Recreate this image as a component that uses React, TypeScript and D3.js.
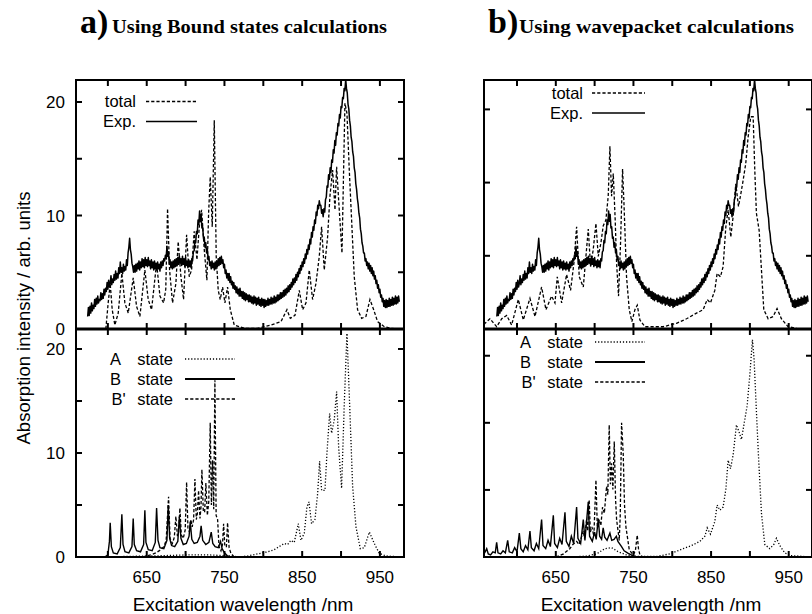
import React from 'react';
import * as d3 from 'd3';

type Pt = [number, number];

// ---------- tick values / labels ----------
const xTickValues = [600, 650, 700, 750, 800, 850, 900, 950];
const xTickLabels = [650, 750, 850, 950];
const yTicksBound = [5, 10, 15, 20];
const yTickLabelsBound = [0, 10, 20];
const yTicksWave = [6.45, 12.9, 19.35];

// ---------- texts ----------
const panelLetters = ['a)', 'b)'];
const panelTitles = ['Using Bound states calculations', 'Using wavepacket calculations'];
const topLegendLabels = ['total', 'Exp.'];
const bottomLegendLetters = ['A', 'B', "B'"];
const xAxisTitle = 'Excitation wavelength /nm';
const yAxisTitle = 'Absorption intensity / arb. units';

// ---------- experimental spectrum (same in both panels), 1 nm steps from 574 nm ----------
const expStartNm = 574;
const expStepNm = 1;
const expValues: number[] = [
  1.1, 1.9, 1.2, 2.0, 1.4, 2.3, 1.6, 2.1, 1.8, 2.6,
  2.0, 2.7, 2.2, 2.9, 2.3, 2.6, 2.5, 3.2, 2.6, 3.1,
  2.7, 3.5, 3.0, 3.6, 3.3, 4.1, 3.5, 4.3, 3.7, 4.0,
  4.7, 3.9, 4.4, 4.1, 4.8, 4.3, 5.1, 4.4, 4.9, 4.5,
  5.4, 4.9, 5.9, 5.0, 5.4, 4.9, 5.7, 5.1, 5.5, 5.2,
  6.1, 5.6, 6.7, 7.2, 8.0, 7.0, 6.6, 5.8, 5.5, 5.0,
  5.6, 5.0, 5.7, 5.1, 5.8, 5.3, 6.0, 5.2, 5.9, 5.4,
  6.2, 5.5, 6.1, 5.4, 6.3, 5.6, 6.1, 5.5, 6.3, 5.6,
  6.0, 5.3, 6.1, 5.4, 5.9, 5.2, 6.0, 5.3, 5.8, 5.2,
  5.9, 5.3, 5.7, 5.1, 5.9, 5.4, 6.0, 5.6, 6.2, 6.0,
  6.5, 6.2, 7.3, 6.4, 6.8, 5.7, 6.1, 5.4, 5.9, 5.3,
  6.0, 5.4, 6.1, 5.5, 6.2, 5.6, 6.3, 5.7, 6.4, 5.8,
  6.2, 5.6, 6.4, 5.7, 6.2, 5.5, 6.3, 5.6, 6.0, 5.4,
  6.1, 5.5, 6.0, 5.4, 6.2, 6.0, 6.8, 6.9, 7.8, 7.6,
  8.6, 8.4, 9.6, 9.2, 10.4, 9.5, 10.1, 8.9, 9.0, 8.0,
  8.1, 7.2, 7.6, 6.7, 7.0, 6.1, 6.4, 5.6, 5.9, 5.3,
  6.0, 5.4, 5.8, 5.2, 5.9, 5.3, 6.0, 5.5, 6.2, 5.6,
  6.3, 5.7, 6.4, 5.8, 6.1, 5.4, 5.7, 4.9, 5.2, 4.5,
  4.9, 4.3, 4.9, 4.1, 4.6, 3.9, 4.2, 3.6, 4.1, 3.5,
  3.8, 3.2, 3.7, 3.1, 3.5, 2.9, 3.6, 2.9, 3.3, 2.7,
  3.3, 2.6, 3.2, 2.5, 3.1, 2.6, 3.0, 2.4, 3.0, 2.4,
  2.9, 2.3, 2.8, 2.2, 2.9, 2.3, 2.8, 2.1, 2.7, 2.2,
  2.8, 2.1, 2.6, 2.0, 2.7, 2.1, 2.6, 1.9, 2.6, 2.0,
  2.5, 2.1, 2.7, 2.1, 2.6, 2.2, 2.8, 2.2, 2.7, 2.3,
  2.9, 2.3, 2.8, 2.4, 3.0, 2.5, 3.0, 2.6, 3.2, 2.7,
  3.2, 2.8, 3.4, 2.9, 3.5, 3.0, 3.6, 3.2, 3.8, 3.3,
  3.9, 3.5, 4.1, 3.7, 4.4, 3.9, 4.5, 4.1, 4.8, 4.3,
  5.0, 4.6, 5.3, 4.9, 5.6, 5.2, 5.9, 5.5, 6.2, 5.8,
  6.6, 6.2, 7.0, 6.6, 7.4, 7.0, 7.9, 7.5, 8.5, 8.1,
  9.0, 8.7, 9.6, 9.3, 10.3, 10.0, 10.9, 10.6, 11.3, 10.9,
  10.9, 10.2, 10.5, 9.9, 10.6, 10.3, 11.4, 11.6, 12.6, 12.5,
  13.6, 13.2, 14.2, 13.8, 14.9, 14.7, 15.8, 15.5, 16.6, 16.2,
  17.3, 17.1, 18.1, 17.9, 18.9, 18.6, 19.6, 19.5, 20.4, 20.3,
  21.2, 21.0, 22.0, 21.2, 20.8, 19.8, 19.4, 18.4, 17.9, 16.9,
  16.5, 15.6, 15.2, 14.2, 13.8, 12.8, 12.3, 11.5, 11.0, 10.2,
  9.8, 8.8, 8.4, 7.6, 7.3, 6.7, 6.7, 6.0, 6.2, 5.6,
  5.9, 5.3, 5.8, 5.1, 5.6, 4.9, 5.4, 4.7, 5.1, 4.4,
  4.7, 4.0, 4.3, 3.6, 3.9, 3.2, 3.5, 2.8, 3.0, 2.4,
  2.7, 2.0, 2.5, 1.9, 2.6, 1.9, 2.5, 2.0, 2.7, 2.0,
  2.6, 2.1, 2.8, 2.1, 2.7, 2.2, 2.9, 2.2, 2.8, 2.3,
  2.9, 2.4,
];

// ---------- a) bound state calculations ----------
const totalBound: Pt[] = [
  [597.4, 0], [600.4, 2.3], [603, 4.0], [605.6, 1.7], [609, 0.35], [613.3, 1.4], [618, 4.9], [621.9, 2.3], [626.2, 1.4],
  [632.6, 4.5], [636.9, 2.0], [641.2, 1.1], [647.6, 5.2], [651.9, 2.6], [656.2, 1.7], [662.7, 5.8], [667, 2.9], [671.7, 2.3],
  [674.5, 3.5], [676.8, 10.6], [679.4, 5.2], [683.2, 2.3], [687.5, 4.0], [690.5, 7.7], [694, 4.6], [697.4, 2.6], [701.3, 8.3],
  [704.7, 4.6], [707.7, 5.2], [711.1, 8.6], [714.6, 6.1], [717.6, 9.0], [720.6, 10.5], [724, 7.0], [727.4, 4.3], [729.6, 10.2],
  [731.7, 13.4], [734.3, 9.0], [736.9, 18.4], [739.4, 6.4], [742, 3.4], [744.6, 2.6], [747.6, 3.7], [750.6, 2.3], [754, 3.7],
  [757.5, 1.7], [762.6, 0.35], [775.5, 0.06], [792.6, 0.06], [809.8, 0.35], [822.7, 0.65], [830.4, 1.7], [834.7, 0.94],
  [840.7, 1.2], [846.3, 3.4], [850.6, 1.7], [854.9, 2.3], [859.1, 5.2], [863.4, 2.6], [867.7, 4.0], [872, 6.4], [875, 9.0],
  [878.4, 5.2], [882.7, 8.1], [885.7, 11.7], [889.2, 14.0], [892.2, 10.5], [894.3, 14.3], [897.7, 10.5], [901.2, 6.7],
  [905, 19.9], [907.6, 19.0], [910.6, 14.0], [913.6, 9.6], [917, 4.6], [921.3, 1.7], [926.5, 0.94], [932, 1.1], [937.2, 2.6],
  [942, 1.7], [947, 0.65], [955.7, 0.2], [964.2, 0.06], [977, 0],
];

const stateABound: Pt[] = [
  [596, 0], [620, 0.05], [660, 0.1], [700, 0.2], [730, 0.2], [760, 0.1], [767, 0], [780, 0.1], [792.6, 0.3], [805.5, 0.5],
  [814, 0.7], [820.5, 1.0], [827, 1.3], [831.3, 1.2], [835.5, 1.6], [839.8, 1.4], [845, 3.2], [848.4, 1.6], [852.7, 2.3],
  [856.1, 4.8], [858.7, 5.3], [862.1, 3.2], [866.4, 3.6], [869.9, 6.1], [872.4, 9.2], [875, 6.4], [879.3, 6.4], [881.9, 10.0],
  [885.3, 13.8], [887.9, 11.9], [891.3, 13.2], [894.3, 15.9], [896.9, 10.6], [900.7, 6.6], [904.2, 14.8], [907.6, 21.5],
  [911, 14.8], [914.9, 6.8], [919.2, 2.9], [924.8, 0.8], [929.9, 0.9], [936.4, 2.4], [942.8, 1.3], [949.2, 0.35],
  [957.8, 0.1], [977, 0],
];

const stateBBound: Pt[] = [
  [596, 0], [600, 0.2], [602, 1.5], [603, 3.3], [604.5, 1.0], [607, 0.4], [612, 0.3], [616, 0.9], [618, 4.1], [619.5, 1.2],
  [622, 0.5], [627, 0.4], [631, 1.0], [632.6, 3.7], [634, 1.2], [637, 0.6], [642, 0.5], [646, 1.2], [647.6, 4.5], [649, 1.4],
  [652, 0.7], [657, 0.6], [661, 1.4], [662.7, 4.7], [664.5, 1.6], [667, 0.9], [672, 0.8], [676, 1.6], [677.7, 5.0], [679.5, 1.8],
  [682, 1.1], [686, 1.0], [690, 1.5], [692, 3.9], [694, 1.8], [697, 1.2], [701, 1.3], [704.5, 2.0], [706, 3.4], [708, 1.7],
  [711, 1.3], [715, 1.4], [718.5, 2.0], [720, 3.0], [722, 1.6], [726, 1.2], [730, 1.4], [733, 2.4], [735, 1.3], [738, 1.0],
  [742, 0.9], [745, 1.5], [747, 0.8], [750, 0.4], [754, 0.1], [758, 0],
];

const stateBpBound: Pt[] = [
  [645, 0], [655, 0.2], [662, 0.4], [668, 0.7], [672, 1.0], [675, 1.6], [678.1, 5.8], [680, 1.8], [683, 1.3], [685.5, 1.9],
  [687.5, 3.9], [689.5, 2.0], [691, 2.4], [692.7, 4.7], [694.5, 2.1], [697, 1.8], [699.5, 2.6], [701.3, 7.2], [703, 2.8],
  [705, 2.4], [706.8, 3.6], [708.5, 2.9], [710.3, 3.6], [712, 7.5], [713.8, 3.6], [715.2, 4.2], [716.7, 6.4], [718.5, 3.7],
  [719.8, 4.8], [721, 8.4], [722.8, 4.4], [724.5, 4.3], [726.1, 7.1], [728, 4.0], [729.8, 5.3], [731.7, 12.9], [733.2, 5.0],
  [734.7, 9.3], [736.2, 4.6], [737.7, 17.0], [739.3, 4.0], [741.2, 3.6], [743, 1.0], [745.5, 0.6], [747.5, 1.2], [748.9, 3.2],
  [750.5, 1.0], [752.5, 1.0], [754, 3.3], [756, 0.9], [758.3, 0.35], [762.6, 0],
];

// ---------- b) wavepacket calculations ----------
const totalWave: Pt[] = [
  [557.5, 0.4], [558.8, 0.5], [565.2, 0.9], [573.8, 0.2], [580.3, 0.9], [586.7, 1.2], [593.1, 0.35], [601.7, 2.6], [608.1, 0.8],
  [616.7, 2.7], [623.2, 1.1], [631.7, 3.7], [637.3, 1.7], [644.6, 2.9], [648.9, 2.3], [651.9, 4.6], [657.5, 2.3], [663.9, 4.8],
  [669, 3.4], [673.3, 5.8], [676.8, 9.0], [680.2, 4.6], [685.4, 3.7], [688.8, 6.4], [691.8, 8.8], [694.8, 5.5], [698.2, 7.0],
  [701.7, 9.3], [704.7, 6.4], [708.1, 7.6], [711.1, 9.1], [714.5, 9.6], [717.5, 11.7], [719.7, 16.1], [721.8, 11.7], [724, 13.7],
  [726.5, 9.6], [728.3, 5.8], [730.8, 2.9], [733.4, 7.6], [736, 14.1], [738.1, 10.5], [741.1, 4.6], [744.6, 1.7], [748, 0.65],
  [751.9, 1.7], [754.9, 2.1], [758.3, 0.8], [764.7, 0.2], [788.3, 0.2], [805.5, 0.5], [818.4, 0.9], [831.2, 1.4], [839.8, 1.7],
  [845, 2.6], [849.2, 2.3], [854.8, 3.4], [857.8, 4.9], [862.1, 4.6], [865.5, 5.5], [869, 9.0], [872, 10.5], [875.4, 8.1],
  [878.4, 9.9], [881.8, 12.8], [885.3, 10.8], [887.8, 11.7], [891.3, 13.1], [894.7, 14.6], [897.7, 16.9], [901.1, 18.7],
  [904.2, 18.7], [906.3, 14.0], [908.4, 10.2], [911.9, 8.7], [914.9, 5.2], [917.9, 1.7], [923.5, 0.9], [929.9, 1.1], [935, 1.8],
  [940.6, 0.9], [949.2, 0.2], [959.9, 0.06], [970.7, 0],
];

const stateAWave: Pt[] = [
  [672.5, 0], [689.7, 0.1], [702.5, 0.3], [713.2, 0.8], [721.8, 0.9], [730.4, 0.5], [741, 0.2], [754, 0.05], [779.7, 0.05],
  [797, 0.3], [814, 0.8], [824.8, 1.1], [835.5, 1.5], [842, 2.0], [845, 2.8], [849.2, 2.2], [854.8, 3.4], [857.8, 5.0],
  [861.3, 4.5], [865.5, 4.8], [869, 6.5], [872, 9.3], [875, 8.5], [878.4, 9.8], [882.7, 12.7], [886.1, 12.0], [889.1, 11.3],
  [893.4, 13.2], [896.4, 14.5], [899.9, 17.5], [903.3, 20.9], [905.4, 19.0], [908.4, 14.0], [911, 9.8], [914.9, 4.2],
  [919.2, 1.2], [925.6, 0.8], [930.8, 1.2], [934.2, 1.8], [938.5, 1.1], [944.9, 0.4], [951.3, 0.15], [968.5, 0.05], [980, 0],
];

const stateBWave: Pt[] = [
  [557.5, 0.3], [559, 0.5], [561, 0.8], [563, 0.3], [566, 0.2], [569, 0.5], [572, 0.4], [573.8, 1.4], [575.5, 0.4], [579, 0.3],
  [582, 0.6], [585, 0.4], [588, 1.6], [590, 0.5], [594, 0.4], [597, 0.9], [600, 0.5], [603, 2.3], [605, 0.8], [608, 0.5],
  [611, 1.1], [614, 0.7], [616.7, 2.5], [618.5, 0.9], [622, 0.6], [625, 1.3], [628, 0.8], [631.7, 3.6], [633.5, 1.1], [637, 0.8],
  [640, 1.6], [643, 1.0], [646.8, 4.0], [648.5, 1.3], [652, 0.9], [655, 1.8], [658, 1.2], [661.8, 4.3], [663.5, 1.5], [667, 1.0],
  [670, 2.0], [673, 1.3], [676.8, 4.8], [678.5, 1.8], [682, 1.3], [685.4, 3.6], [687.5, 1.6], [691.8, 5.3], [693.5, 2.0],
  [697, 1.5], [700, 2.4], [702, 1.7], [704.7, 3.7], [706.5, 2.0], [709, 1.7], [711, 2.8], [713, 1.9], [716, 1.6], [719.7, 2.3],
  [722, 1.6], [725, 1.7], [728, 2.0], [730, 1.5], [734.7, 1.0], [738, 0.6], [743.3, 0.35], [749.7, 0.1], [755, 0],
];

const stateBpWave: Pt[] = [
  [650, 0], [660, 0.3], [668, 0.8], [672, 1.2], [676.8, 1.5], [680, 1.2], [685.4, 2.5], [687, 1.8], [689.7, 3.6], [691, 2.5],
  [693, 5.5], [694.5, 2.4], [696.5, 2.9], [699, 2.0], [701.7, 7.4], [703.5, 2.8], [706, 3.6], [708, 3.0], [710.2, 4.8],
  [712.5, 4.2], [715.4, 6.8], [717, 6.0], [718.8, 12.7], [720.3, 7.0], [721.8, 9.0], [723.5, 6.5], [725.3, 11.1], [727, 5.5],
  [728.3, 3.6], [731.7, 1.6], [733, 4.0], [734.7, 12.9], [736.8, 10.0], [738.5, 5.0], [740.3, 2.9], [744.6, 0.7], [749.7, 0.2],
  [752.5, 0.6], [754.9, 2.1], [756.5, 0.8], [758.3, 0.2], [762.6, 0],
];

// ---------- layout ----------
const W = 812;
const H = 614;
const TOP = 80;
const MID = 329;
const BOT = 557;
const Y_MAX_TOP = 21.94;
const Y_MAX_BOT = 21.92;
const SANS = '"Liberation Sans", Arial, Helvetica, sans-serif';
const SERIF = '"Liberation Serif", "Times New Roman", serif';
const LEG_FONT = 16.5;

const DASH = '3.2,2';
const DOT = '1.2,1.9';

interface PanelCfg {
  id: string;
  left: number;
  right: number;
  domain: [number, number];
  letter: string;
  title: string;
  letterX: number;
  titleX: number;
  total: Pt[];
  stA: Pt[];
  stB: Pt[];
  stBp: Pt[];
  yTicks: number[];
  yLabels: number[] | null;
  topLeg: { textEnd: number; x0: number; x1: number; rows: number[] };
  botLeg: { letterX: number; textEnd: number; x0: number; x1: number; rows: number[] };
}

const panels: PanelCfg[] = [
  {
    id: 'a', left: 76, right: 404, domain: [559, 981], letter: panelLetters[0], title: panelTitles[0],
    letterX: 80, titleX: 112, total: totalBound, stA: stateABound, stB: stateBBound, stBp: stateBpBound,
    yTicks: yTicksBound, yLabels: yTickLabelsBound,
    topLeg: { textEnd: 136, x0: 146, x1: 197, rows: [101.5, 121.5] },
    botLeg: { letterX: 110, textEnd: 173, x0: 185, x1: 235, rows: [359, 379, 399] },
  },
  {
    id: 'b', left: 484, right: 812, domain: [557.5, 980], letter: panelLetters[1], title: panelTitles[1],
    letterX: 488, titleX: 519, total: totalWave, stA: stateAWave, stB: stateBWave, stBp: stateBpWave,
    yTicks: yTicksWave, yLabels: null,
    topLeg: { textEnd: 583, x0: 592, x1: 645, rows: [93, 113] },
    botLeg: { letterX: 520, textEnd: 583, x0: 595, x1: 645, rows: [342, 362, 382] },
  },
];

const expSpectrum: Pt[] = expValues.map((v, i) => [expStartNm + i * expStepNm, v] as Pt);

function Panel({ p }: { p: PanelCfg }) {
  const x = d3.scaleLinear().domain(p.domain).range([p.left, p.right]);
  const yT = d3.scaleLinear().domain([0, Y_MAX_TOP]).range([MID, TOP]);
  const yB = d3.scaleLinear().domain([0, Y_MAX_BOT]).range([BOT, MID]);
  const lineT = d3.line<Pt>().x((d) => x(d[0])).y((d) => yT(d[1]));
  const lineB = d3.line<Pt>().x((d) => x(d[0])).y((d) => yB(d[1]));
  const tl = 6;
  const cx = (p.left + p.right) / 2;
  const clipT = `clipT-${p.id}`;
  const clipB = `clipB-${p.id}`;
  return (
    <g>
      <defs>
        <clipPath id={clipT}><rect x={p.left} y={TOP} width={p.right - p.left} height={MID - TOP} /></clipPath>
        <clipPath id={clipB}><rect x={p.left} y={MID} width={p.right - p.left} height={BOT - MID} /></clipPath>
      </defs>
      {/* title */}
      <text x={p.letterX} y={33} fontFamily={SERIF} fontWeight="bold" fontSize={34}>{p.letter}</text>
      <text x={p.titleX} y={33} fontFamily={SERIF} fontWeight="bold" fontSize={19} textLength={275} lengthAdjust="spacingAndGlyphs">{p.title}</text>

      {/* curves */}
      <g clipPath={`url(#${clipT})`} fill="none" stroke="#000">
        <path d={lineT(p.total) || ''} strokeWidth={1.3} strokeDasharray={DASH} />
        <path d={lineT(expSpectrum) || ''} strokeWidth={1.5} strokeLinejoin="round" />
      </g>
      <g clipPath={`url(#${clipB})`} fill="none" stroke="#000">
        <path d={lineB(p.stA) || ''} strokeWidth={1.3} strokeDasharray={DOT} />
        <path d={lineB(p.stBp) || ''} strokeWidth={1.3} strokeDasharray={DASH} />
        <path d={lineB(p.stB) || ''} strokeWidth={1.4} />
      </g>

      {/* ticks */}
      <g stroke="#000" strokeWidth={2}>
        {xTickValues.map((v) => (
          <g key={`xt${v}`}>
            <line x1={x(v)} x2={x(v)} y1={TOP} y2={TOP + tl} />
            <line x1={x(v)} x2={x(v)} y1={MID} y2={MID - tl} />
            <line x1={x(v)} x2={x(v)} y1={MID} y2={MID + tl} />
            <line x1={x(v)} x2={x(v)} y1={BOT} y2={BOT - tl} />
          </g>
        ))}
        {p.yTicks.map((v) => (
          <g key={`yt${v}`}>
            <line x1={p.left} x2={p.left + tl} y1={yT(v)} y2={yT(v)} />
            <line x1={p.right} x2={p.right - tl} y1={yT(v)} y2={yT(v)} />
            <line x1={p.left} x2={p.left + tl} y1={yB(v)} y2={yB(v)} />
            <line x1={p.right} x2={p.right - tl} y1={yB(v)} y2={yB(v)} />
          </g>
        ))}
      </g>

      {/* frame */}
      <rect x={p.left} y={TOP} width={p.right - p.left} height={BOT - TOP} fill="none" stroke="#000" strokeWidth={2} />
      <line x1={p.left} x2={p.right} y1={MID} y2={MID} stroke="#000" strokeWidth={3.2} />

      {/* tick labels */}
      <g fontFamily={SANS} fill="#000">
        {xTickLabels.map((v) => (
          <text key={`xl${v}`} x={x(v)} y={583} textAnchor="middle" fontSize={17}>{v}</text>
        ))}
        {p.yLabels && p.yLabels.map((v) => (
          <g key={`yl${v}`} fontSize={17}>
            <text x={65} y={yT(v) + 6} textAnchor="end">{v}</text>
            <text x={65} y={yB(v) + 6} textAnchor="end">{v}</text>
          </g>
        ))}
        <text x={cx + 3} y={611} textAnchor="middle" fontSize={19}>{xAxisTitle}</text>
      </g>

      {/* legends */}
      <g fontFamily={SANS} fontSize={LEG_FONT} fill="#000">
        {topLegendLabels.map((lab, i) => (
          <g key={lab}>
            <text x={p.topLeg.textEnd} y={p.topLeg.rows[i] + 5.5} textAnchor="end">{lab}</text>
            <line x1={p.topLeg.x0} x2={p.topLeg.x1} y1={p.topLeg.rows[i]} y2={p.topLeg.rows[i]} stroke="#000"
              strokeWidth={i === 0 ? 1.3 : 1.6} strokeDasharray={i === 0 ? DASH : undefined} />
          </g>
        ))}
        {bottomLegendLetters.map((lab, i) => (
          <g key={lab}>
            <text x={p.botLeg.letterX + (i === 2 ? 1.5 : 0)} y={p.botLeg.rows[i] + 5.5}>{lab}</text>
            <text x={p.botLeg.textEnd} y={p.botLeg.rows[i] + 5.5} textAnchor="end">state</text>
            <line x1={p.botLeg.x0} x2={p.botLeg.x1} y1={p.botLeg.rows[i]} y2={p.botLeg.rows[i]} stroke="#000"
              strokeWidth={i === 1 ? 2 : 1.3} strokeDasharray={i === 0 ? DOT : i === 2 ? DASH : undefined} />
          </g>
        ))}
      </g>
    </g>
  );
}

export default function App() {
  return (
    <svg width={W} height={H} viewBox={`0 0 ${W} ${H}`} style={{ position: 'absolute', left: 0, top: 0, background: '#fff' }}>
      <rect x={0} y={0} width={W} height={H} fill="#fff" />
      {panels.map((p) => <Panel key={p.id} p={p} />)}
      <text transform="translate(30,318) rotate(-90)" textAnchor="middle" fontFamily={SANS} fontSize={18.5}>{yAxisTitle}</text>
    </svg>
  );
}
